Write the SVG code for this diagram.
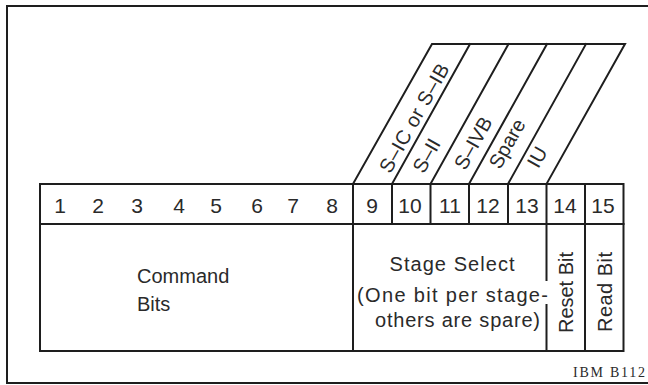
<svg xmlns="http://www.w3.org/2000/svg" width="648" height="385" viewBox="0 0 648 385">
<style>
.ln{stroke:#1e1e1e;stroke-width:2;fill:none;stroke-linecap:square}
.t{font-family:"Liberation Sans",Arial,sans-serif;fill:#2a2a2a;font-size:20px}
.n{text-anchor:middle}
.d{font-size:21px}
.sl{font-size:20px;text-anchor:middle;dominant-baseline:central}
.ibm{font-family:"Liberation Serif","Times New Roman",serif;font-size:14px;fill:#2a2a2a}
</style>
<rect width="648" height="385" fill="#fff"/>
<g id="frame">
<path d="M7,383 V6 H650" class="ln" stroke-width="2.5"/>
<path d="M7,383 H650" class="ln" stroke-width="1.5" stroke="#555"/>
</g>
<g id="connectors">
<path class="ln" d="M40,184 H623.5 V351 H40 Z"/>
<path class="ln" d="M40,224 H623.5"/>
<path class="ln" d="M353,184 V351"/>
<path class="ln" d="M392,184 V224 M430.5,184 V224 M469,184 V224 M508,184 V224"/>
<path class="ln" d="M546.5,184 V280 M546.5,305 V351"/>
<path class="ln" d="M585,184 V351"/>
<path class="ln" d="M353,184 L432,44 H625 L546.5,184"/>
<path class="ln" d="M392,184 L470,44 M430.5,184 L508.5,44 M469,184 L547,44 M508,184 L586,44"/>
</g>
<g id="header-bits">
<text class="t n d" x="60" y="213">1</text>
<text class="t n d" x="98" y="213">2</text>
<text class="t n d" x="137" y="213">3</text>
<text class="t n d" x="179" y="213">4</text>
<text class="t n d" x="216" y="213">5</text>
<text class="t n d" x="257" y="213">6</text>
<text class="t n d" x="293" y="213">7</text>
<text class="t n d" x="332" y="213">8</text>
<text class="t n d" x="372" y="213">9</text>
<text class="t n d" x="410" y="213">10</text>
<text class="t n d" x="450" y="213">11</text>
<text class="t n d" x="488" y="213">12</text>
<text class="t n d" x="527" y="213">13</text>
<text class="t n d" x="565" y="213">14</text>
<text class="t n d" x="603" y="213">15</text>
</g>
<g id="stage-labels">
<text class="t sl" transform="translate(414,118) rotate(-60.6)" textLength="122">S–IC or S–IB</text>
<text class="t sl" transform="translate(426.5,155.5) rotate(-60.6)">S–II</text>
<text class="t sl" transform="translate(473,143) rotate(-60.6)">S–IVB</text>
<text class="t sl" transform="translate(507,143.5) rotate(-60.6)">Spare</text>
<text class="t sl" transform="translate(537,157) rotate(-60.6)">IU</text>
</g>
<g id="command-bits">
<text class="t" x="137" y="283">Command</text>
<text class="t" x="137" y="311">Bits</text>
</g>
<g id="stage-select">
<text class="t n" x="452" y="271" textLength="125">Stage Select</text>
<text class="t n" x="452.5" y="302" textLength="191">(One bit per stage-</text>
<text class="t n" x="457.5" y="327" textLength="165">others are spare)</text>
</g>
<g id="reset-bit">
<text class="t n" transform="translate(573,292.5) rotate(-90)" textLength="81">Reset Bit</text>
</g>
<g id="read-bit">
<text class="t n" transform="translate(612,292) rotate(-90)" textLength="80">Read Bit</text>
</g>
<text class="ibm" x="573" y="377" textLength="72">IBM B112</text>
</svg>
